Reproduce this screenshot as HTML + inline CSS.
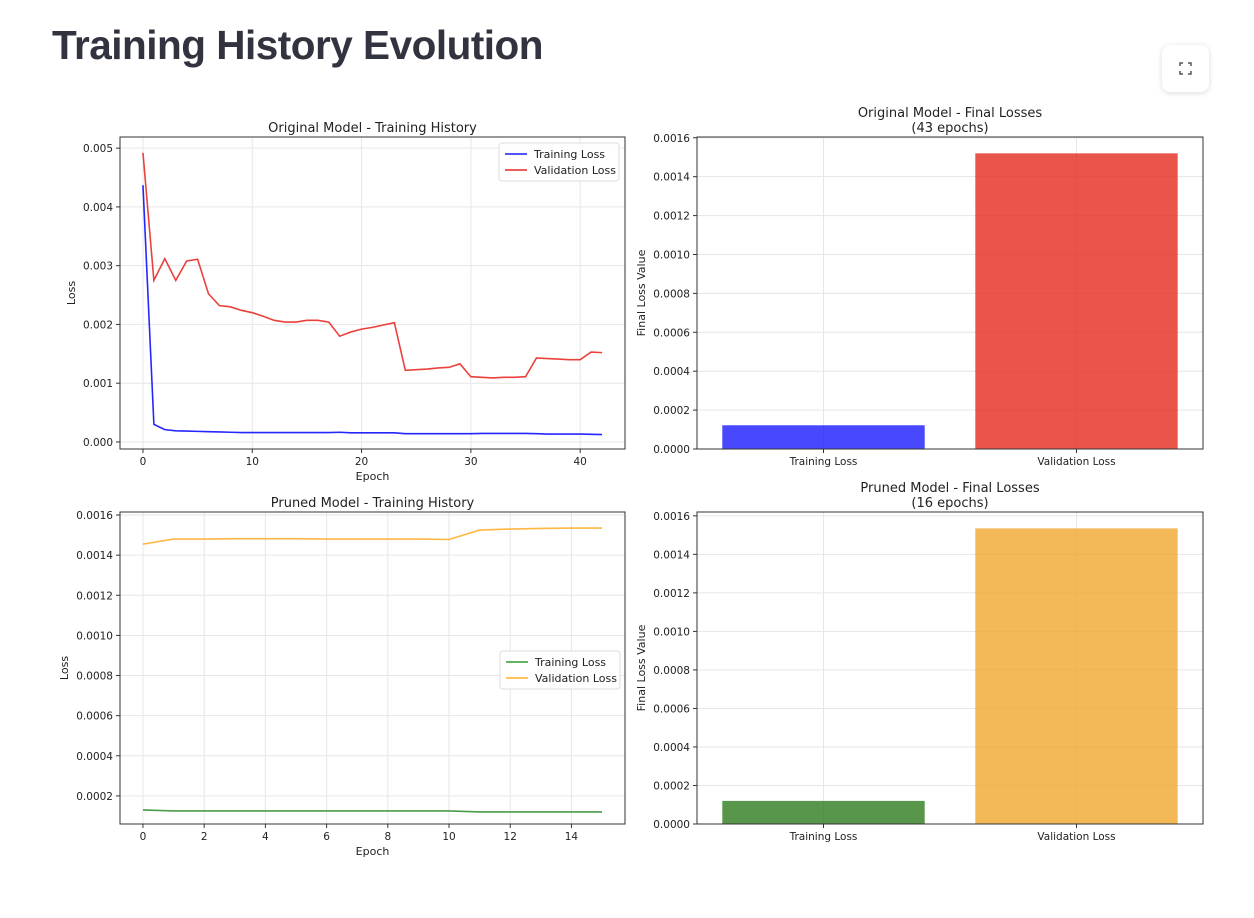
<!DOCTYPE html>
<html><head><meta charset="utf-8"><style>
body{margin:0;background:#fff;width:1254px;height:918px;overflow:hidden;font-family:"Liberation Sans","DejaVu Sans",sans-serif}
h1{position:absolute;left:52px;top:22px;margin:0;font-size:40.5px;font-weight:700;color:#31333f;letter-spacing:-0.5px}
#fs{position:absolute;left:1162px;top:45px;width:47px;height:47px;border-radius:8px;background:#fff;box-shadow:0 1px 6px rgba(0,0,0,0.15)}
svg{position:absolute;left:0;top:0}
text{font-family:"DejaVu Sans","Liberation Sans",sans-serif;fill:#222}
</style></head><body>
<h1>Training History Evolution</h1>
<div id="fs"><svg width="47" height="47"><path d="M18 21v-3h3M26 18h3v3M29 26v3h-3M21 29h-3v-3" stroke="#555" stroke-width="1.5" fill="none"/></svg></div>
<svg id="c" width="1254" height="918"></svg>
<script>
const origVal=[0.00492,0.00275,0.00312,0.00275,0.00308,0.00311,0.00252,0.00232,0.0023,0.00224,0.0022,0.00214,0.00207,0.00204,0.00204,0.00207,0.00207,0.00204,0.0018,0.00187,0.00192,0.00195,0.00199,0.00203,0.00122,0.00123,0.00124,0.00126,0.00127,0.00133,0.00111,0.0011,0.00109,0.0011,0.0011,0.00111,0.00143,0.00142,0.00141,0.0014,0.0014,0.00153,0.00152];
const origTrain=[0.00437,0.0003,0.00021,0.00019,0.000185,0.00018,0.000175,0.00017,0.000165,0.00016,0.00016,0.00016,0.00016,0.00016,0.00016,0.00016,0.00016,0.00016,0.000165,0.000155,0.000155,0.000155,0.000155,0.000155,0.00014,0.00014,0.00014,0.00014,0.00014,0.00014,0.00014,0.000145,0.000145,0.000145,0.000145,0.000145,0.00014,0.000135,0.000135,0.000135,0.000135,0.00013,0.000125];
const prunVal=[0.001455,0.00148,0.00148,0.001482,0.001482,0.001482,0.00148,0.00148,0.00148,0.00148,0.001478,0.001525,0.00153,0.001533,0.001535,0.001535];
const prunTrain=[0.00013,0.000125,0.000125,0.000125,0.000125,0.000125,0.000125,0.000125,0.000125,0.000125,0.000125,0.00012,0.00012,0.00012,0.00012,0.00012];
const barCats=["Training Loss","Validation Loss"];
const origFinal=[0.000122,0.00152];
const prunFinal=[0.00012,0.001535];
const origTicksY=[0,0.001,0.002,0.003,0.004,0.005];
const origTicksX=[0,10,20,30,40];
const prunTicksY=[0.0002,0.0004,0.0006,0.0008,0.0010,0.0012,0.0014,0.0016];
const prunTicksX=[0,2,4,6,8,10,12,14];
const barTicksY=[0,0.0002,0.0004,0.0006,0.0008,0.0010,0.0012,0.0014,0.0016];

const S=document.getElementById('c'),NS='http://www.w3.org/2000/svg';
function el(t,a,txt,p){const e=document.createElementNS(NS,t);for(const k in a)e.setAttribute(k,a[k]);if(txt!=null)e.textContent=txt;(p||S).appendChild(e);return e;}
function axes(name,L,T,R,B,x0,x1,y0,y1,xt,yt,xfmt,yfmt,title,xlabel,ylabel){
 const g=el('g',{});
 
 
 const X=v=>L+(v-x0)/(x1-x0)*(R-L),Y=v=>B-(v-y0)/(y1-y0)*(B-T);
 xt.forEach(v=>{el('line',{x1:X(v),x2:X(v),y1:T,y2:B,stroke:'#e6e6e6','stroke-width':1},null,g);el('line',{x1:X(v),x2:X(v),y1:B,y2:B+4,stroke:'#333'},null,g);const t=el('text',{x:X(v),y:B+16,'font-size':10.5,'text-anchor':'middle'},xfmt(v),g);});
 yt.forEach(v=>{el('line',{x1:L,x2:R,y1:Y(v),y2:Y(v),stroke:'#e6e6e6','stroke-width':1},null,g);el('line',{x1:L-4,x2:L,y1:Y(v),y2:Y(v),stroke:'#333'},null,g);const t=el('text',{x:L-7,y:Y(v)+4,'font-size':10.5,'text-anchor':'end'},yfmt(v),g);});
 title.forEach((s,i)=>{const t=el('text',{x:(L+R)/2,y:T-5-(title.length-1-i)*15,'font-size':13,'text-anchor':'middle'},s,g);});
 if(xlabel){const t=el('text',{x:(L+R)/2,y:B+31,'font-size':11,'text-anchor':'middle'},xlabel,g);}
 const yl=el('text',{x:0,y:0,'font-size':11,'text-anchor':'middle',transform:`translate(${ylabel[1]},${(T+B)/2}) rotate(-90)`},ylabel[0],g);
 
 return {g,X,Y,frame:()=>el('rect',{x:L,y:T,width:R-L,height:B-T,fill:'none',stroke:'#333','stroke-width':1},null,g)};
}
function line(a,arr,col,name){const p=el('polyline',{points:arr.map((v,i)=>a.X(i)+','+a.Y(v)).join(' '),fill:'none',stroke:col,'stroke-width':1.6,'stroke-opacity':0.85},null,a.g);}
function legend(a,x,y,items){const g=el('g',{},null,a.g);el('rect',{x:x,y:y,width:120,height:38,rx:3,fill:'#fff','fill-opacity':0.85,stroke:'#ddd'},null,g);items.forEach((it,i)=>{el('line',{x1:x+6,x2:x+28,y1:y+11+i*16,y2:y+11+i*16,stroke:it[1],'stroke-width':1.8},null,g);const t=el('text',{x:x+35,y:y+15+i*16,'font-size':11},it[0],g);});}
function bars(a,vals,cols){vals.forEach((v,i)=>{const w=a.X(0.4)-a.X(0);const r=el('rect',{x:a.X(i)-w,width:2*w,y:a.Y(v),height:a.Y(0)-a.Y(v),fill:cols[i],'fill-opacity':0.8},null,a.g);});}
function barCatAxis(a,T,B){barCats.forEach((c,i)=>{el('line',{x1:a.X(i),x2:a.X(i),y1:T,y2:B,stroke:'#e6e6e6'},null,a.g);el('line',{x1:a.X(i),x2:a.X(i),y1:B,y2:B+4,stroke:'#333'},null,a.g);const t=el('text',{x:a.X(i),y:B+16,'font-size':10.5,'text-anchor':'middle'},c,a.g);});}
const f4=v=>v.toFixed(4),f3=v=>v.toFixed(3),fi=v=>String(v);
// top-left
let a=axes('original-history-chart',120,137,625,449,-2.1,44.1,-0.00012,0.00519,origTicksX,origTicksY,fi,f3,['Original Model - Training History'],'Epoch',['Loss',75]);
line(a,origTrain,'#0000ff','original-training-line');line(a,origVal,'#e8201a','original-validation-line');a.frame();
legend(a,499,143,[['Training Loss','#3b3bff'],['Validation Loss','#ee4444']]);
// top-right
a=axes('original-final-bar-chart',697,137,1203,449,-0.5,1.5,0,0.001604,[],barTicksY,fi,f4,['Original Model - Final Losses','(43 epochs)'],null,['Final Loss Value',645]);
barCatAxis(a,137,449);
bars(a,origFinal,['#1a1aff','#e52a1e']);a.frame();
// bottom-left
a=axes('pruned-history-chart',120,512,625,824,-0.75,15.75,0.00006,0.001615,prunTicksX,prunTicksY,fi,f4,['Pruned Model - Training History'],'Epoch',['Loss',68]);
line(a,prunTrain,'#2a8a2a','pruned-training-line');line(a,prunVal,'#ffaa22','pruned-validation-line');a.frame();
legend(a,500,651,[['Training Loss','#4fa84f'],['Validation Loss','#ffbb44']]);
// bottom-right
a=axes('pruned-final-bar-chart',697,512,1203,824,-0.5,1.5,0,0.00162,[],barTicksY,fi,f4,['Pruned Model - Final Losses','(16 epochs)'],null,['Final Loss Value',645]);
barCatAxis(a,512,824);
bars(a,prunFinal,['#2e7d1e','#f0a830']);a.frame();
</script>
</body></html>
